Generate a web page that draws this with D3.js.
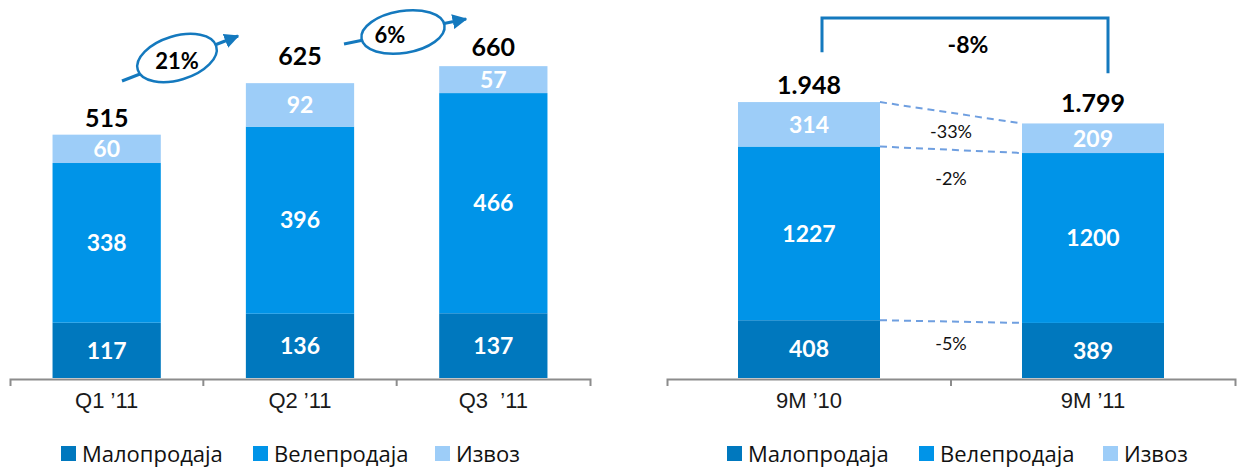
<!DOCTYPE html>
<html><head><meta charset="utf-8">
<script src="https://cdn.jsdelivr.net/npm/d3@7/dist/d3.min.js"></script>
<style>
html,body{margin:0;padding:0;background:#fff;}
svg{display:block;}
</style></head>
<body>
<svg id="chart" width="1239" height="468"></svg>
<script>
// ---------- DATA ----------
const seriesNames = ["Малопродаја", "Велепродаја", "Извоз"];
const quarters = ["Q1 ’11", "Q2 ’11", "Q3  ’11"];
const qRetail = [117, 136, 137];
const qWholesale = [338, 396, 466];
const qExport = [60, 92, 57];
const qTotals = [515, 625, 660];
const qGrowth = ["21%", "6%"];

const periods = ["9M ’10", "9M ’11"];
const pRetail = [408, 389];
const pWholesale = [1227, 1200];
const pExport = [314, 209];
const pTotals = [1948, 1799];
const pTotalLabels = ["1.948", "1.799"];
const pSegChange = ["-5%", "-2%", "-33%"];
const pTotalChange = "-8%";

// ---------- STYLE ----------
const colors = ["#0078be", "#0094e8", "#9dcdf8"];
const accent = "#1479be";
const numFont = "Lato, 'Open Sans', sans-serif";
const txtFont = "'Open Sans', 'Noto Sans', sans-serif";
const axisFont = "'Liberation Sans', Arial, sans-serif";

const svg = d3.select("#chart");

function stackRows(retail, wholesale, exp) {
  return retail.map((r, i) => {
    const vals = [r, wholesale[i], exp[i]];
    let acc = 0;
    return vals.map((v, k) => { const s = {k, v, y0: acc, y1: acc + v}; acc += v; return s; });
  });
}

function drawPanel(cfg) {
  const g = svg.append("g");
  const x = d3.scaleBand().domain(cfg.cats).range(cfg.xRange)
    .paddingInner(cfg.padIn).paddingOuter(cfg.padOut);
  const y = d3.scaleLinear().domain([0, cfg.yMax]).range([cfg.baseY, 0]);
  const rows = stackRows(cfg.retail, cfg.wholesale, cfg.exp);

  const cols = g.selectAll("g.col").data(rows).join("g")
    .attr("transform", (d, i) => `translate(${x(cfg.cats[i])},0)`);
  cols.selectAll("rect").data(d => d).join("rect")
    .attr("x", 0).attr("width", x.bandwidth())
    .attr("y", d => y(d.y1)).attr("height", d => y(d.y0) - y(d.y1))
    .attr("fill", d => colors[d.k]);
  cols.selectAll("text").data(d => d).join("text")
    .attr("x", x.bandwidth() / 2)
    .attr("y", d => (y(d.y0) + y(d.y1)) / 2)
    .attr("dy", "0.36em")
    .attr("text-anchor", "middle")
    .attr("fill", "#fff").attr("font-family", numFont).attr("font-weight", 700)
    .attr("font-size", 23)
    .text(d => d.v);

  // axis
  const axis = d3.axisBottom(x).tickSize(0).tickSizeOuter(7).tickPadding(13);
  const ag = g.append("g").attr("transform", `translate(0,${cfg.baseY + 1})`).call(axis);
  ag.select(".domain").attr("stroke", "#8c8c8c").attr("stroke-width", 2);
  ag.selectAll(".tick text").attr("font-family", axisFont).attr("font-size", 22)
    .attr("fill", "#1a1a1a").style("white-space", "pre");
  for (let i = 1; i < cfg.cats.length; i++) {
    const bx = x.range()[0] + i * x.step();
    ag.append("line").attr("x1", bx).attr("x2", bx).attr("y1", 0).attr("y2", 7)
      .attr("stroke", "#8c8c8c").attr("stroke-width", 2);
  }
  return {g, x, y, rows};
}

// ---------- LEFT PANEL ----------
const L = drawPanel({cats: quarters, xRange: [10, 590], padIn: 0.44, padOut: 0.22,
  yMax: 800, baseY: 378, retail: qRetail, wholesale: qWholesale, exp: qExport});
const qLift = [8, 18, 10];
L.g.selectAll("text.tot").data(qTotals).join("text").attr("class", "tot")
  .attr("x", (d, i) => L.x(quarters[i]) + L.x.bandwidth() / 2)
  .attr("y", (d, i) => L.y(d) - qLift[i])
  .attr("text-anchor", "middle").attr("font-family", numFont).attr("font-weight", 700)
  .attr("font-size", 25).attr("fill", "#000").text(d => d);

// growth arrows
const arrows = [
  {x1: 122, y1: 81, x2: 238, y2: 36, cx: 177, cy: 58, rx: 41, ry: 22},
  {x1: 344, y1: 44, x2: 466, y2: 19, cx: 403, cy: 32, rx: 42, ry: 21}
];
const defs = svg.append("defs");
defs.append("marker").attr("id", "ah").attr("viewBox", "0 0 10 10")
  .attr("refX", 9).attr("refY", 5).attr("markerWidth", 5).attr("markerHeight", 5)
  .attr("markerUnits", "strokeWidth").attr("orient", "auto")
  .append("path").attr("d", "M0,0 L10,5 L0,10 Z").attr("fill", accent);
arrows.forEach((a, i) => {
  const ang = Math.atan2(a.y2 - a.y1, a.x2 - a.x1) * 180 / Math.PI;
  const ag = L.g.append("g");
  ag.append("line").attr("x1", a.x1).attr("y1", a.y1).attr("x2", a.x2).attr("y2", a.y2)
    .attr("stroke", accent).attr("stroke-width", 3).attr("marker-end", "url(#ah)");
  ag.append("ellipse").attr("cx", a.cx).attr("cy", a.cy).attr("rx", a.rx).attr("ry", a.ry)
    .attr("transform", `rotate(${ang * 0.8},${a.cx},${a.cy})`)
    .attr("fill", "#fff").attr("stroke", accent).attr("stroke-width", 2.5);
  ag.append("text").attr("x", a.cx - (i === 1 ? 13 : 0)).attr("y", a.cy + 3).attr("dy", "0.36em")
    .attr("text-anchor", "middle").attr("font-family", numFont).attr("font-weight", 700)
    .attr("font-size", 22).attr("fill", "#000").text(qGrowth[i]);
});

// ---------- RIGHT PANEL ----------
const R = drawPanel({cats: periods, xRange: [667, 1235], padIn: 0.5, padOut: 0.25,
  yMax: 2670, baseY: 378, retail: pRetail, wholesale: pWholesale, exp: pExport});
const pLift = [8, 11];
R.g.selectAll("text.tot").data(pTotals).join("text").attr("class", "tot")
  .attr("x", (d, i) => R.x(periods[i]) + R.x.bandwidth() / 2)
  .attr("y", (d, i) => R.y(d) - pLift[i])
  .attr("text-anchor", "middle").attr("font-family", numFont).attr("font-weight", 700)
  .attr("font-size", 25).attr("fill", "#000").text((d, i) => pTotalLabels[i]);

// dashed connectors
const xa = R.x(periods[0]) + R.x.bandwidth();
const xb = R.x(periods[1]);
const xm = (xa + xb) / 2;
for (let k = 0; k < 3; k++) {
  const ya = R.y(R.rows[0][k].y1), yb = R.y(R.rows[1][k].y1);
  R.g.append("line").attr("x1", xa).attr("y1", ya).attr("x2", xb).attr("y2", yb)
    .attr("stroke", "#6f9fe0").attr("stroke-width", 2).attr("stroke-dasharray", "7,5");
}
const chgY = [
  (R.y(R.rows[0][0].y0) + R.y(R.rows[0][0].y1)) / 2 - 6,
  R.y(R.rows[0][1].y1) + 32,
  (R.y(R.rows[0][2].y1) + R.y(R.rows[1][2].y1) + R.y(R.rows[0][2].y0) + R.y(R.rows[1][2].y0)) / 4
];
pSegChange.forEach((t, k) => {
  R.g.append("text").attr("x", xm).attr("y", chgY[k]).attr("dy", "0.36em")
    .attr("text-anchor", "middle").attr("font-family", numFont).attr("font-size", 18)
    .attr("fill", "#111").text(t);
});

// bracket
const bl = R.x(periods[0]) + R.x.bandwidth() / 2 + 13;
const br = R.x(periods[1]) + R.x.bandwidth() / 2 + 15;
const bTop = 18;
R.g.append("path")
  .attr("d", `M${bl},${R.y(pTotals[0]) - 50} V${bTop} H${br} V${R.y(pTotals[1]) - 50}`)
  .attr("fill", "none").attr("stroke", accent).attr("stroke-width", 3);
R.g.append("text").attr("x", (bl + br) / 2 + 3).attr("y", 45).attr("dy", "0.36em")
  .attr("text-anchor", "middle").attr("font-family", numFont).attr("font-weight", 700)
  .attr("font-size", 23).attr("fill", "#000").text(pTotalChange);

// ---------- LEGENDS ----------
function legend(xs) {
  const lg = svg.append("g").attr("transform", "translate(0,453)");
  const it = lg.selectAll("g").data(seriesNames).join("g")
    .attr("transform", (d, i) => `translate(${xs[i]},0)`);
  it.append("rect").attr("x", 0).attr("y", -7).attr("width", 15).attr("height", 15)
    .attr("fill", (d, i) => colors[i]);
  it.append("text").attr("x", 21).attr("y", 1).attr("dy", "0.36em")
    .attr("font-family", txtFont).attr("font-size", 22).attr("fill", "#111").text(d => d);
}
legend([61, 253, 435]);
legend([727, 919, 1103]);
</script>
</body></html>
